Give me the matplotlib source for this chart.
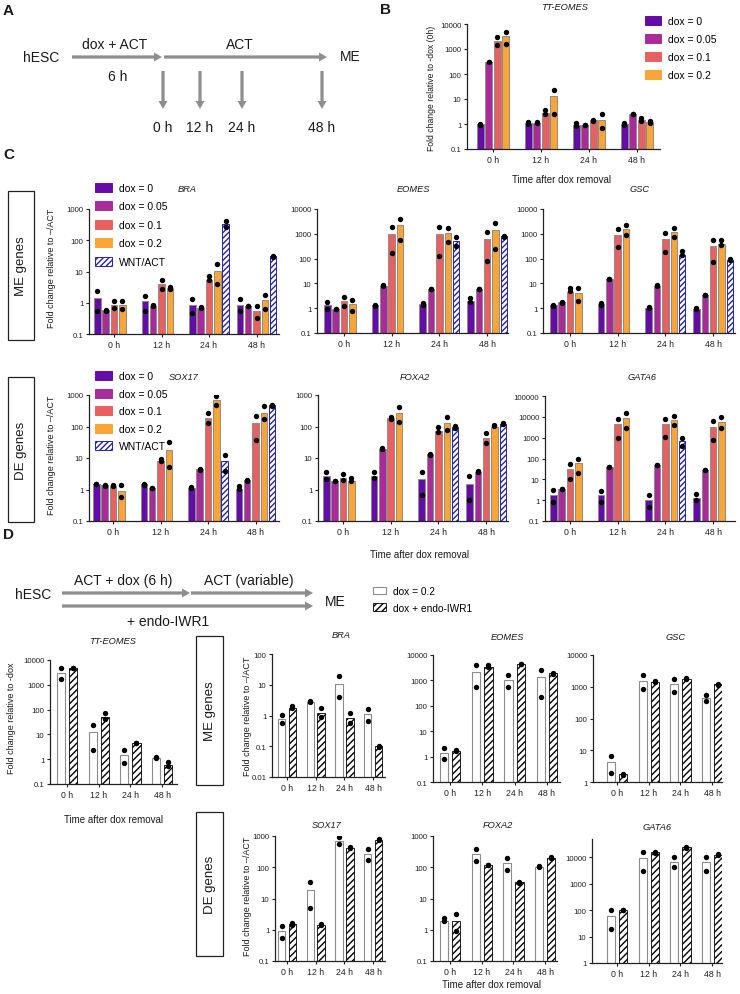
import numpy as np
import matplotlib
matplotlib.use("Agg")
import matplotlib.pyplot as plt
from matplotlib.patches import Rectangle, FancyArrow, Patch
from matplotlib.ticker import FixedLocator, NullLocator


# ============================================================
# Data
# ============================================================

TIMES = ["0 h", "12 h", "24 h", "48 h"]
DOX_LABELS = ["dox = 0", "dox = 0.05", "dox = 0.1", "dox = 0.2"]
WNT_LABEL = "WNT/ACT"
D_LABELS = ["dox = 0.2", "dox + endo-IWR1"]

# Panel B, TT-EOMES: bar heights per dox level, replicates per time point
B_BARS = [
    [1.0, 1.1, 0.95, 1.0],
    [290, 1.1, 0.9, 2.4],
    [2100, 2.8, 1.4, 1.5],
    [3200, 12.8, 1.5, 1.2],
]
B_PTS = [
    [(1.0, 0.95), (1.15, 1.0), (1.05, 0.85), (1.1, 0.9)],
    [(300, 290), (1.15, 1.1), (0.9, 0.88), (2.5, 2.4)],
    [(3000, 1400), (3.5, 2.5), (1.5, 1.3), (1.7, 1.3)],
    [(5000, 1600), (23, 2.4), (2.4, 0.67), (1.35, 1.1)],
]

# Panel C: five series (dox 0 / 0.05 / 0.1 / 0.2 / WNT-ACT), None = not measured
C_BRA_BARS = [
    [1.4, 1.1, 0.87, 0.87],
    [0.58, 0.8, 0.7, 0.8],
    [0.85, 4.0, 5.5, 0.56],
    [0.82, 2.9, 10.6, 1.2],
    [None, None, 330, 31],
]
C_BRA_PTS = [
    [(2.3, 0.56), (1.7, 0.55), (1.35, 0.46), (1.35, 0.55)],
    [(0.58, 0.56), (0.82, 0.78), (0.72, 0.68), (0.8, 0.78)],
    [(1.1, 0.7), (5.3, 2.7), (7.4, 5.3), (0.8, 0.33)],
    [(1.1, 0.62), (3.1, 2.8), (18, 4.0), (1.8, 0.63)],
    [None, None, (400, 260), (32, 30)],
]

C_EOMES_BARS = [
    [1.3, 1.3, 1.5, 1.9],
    [0.95, 8.2, 6.0, 6.0],
    [1.95, 990, 990, 620],
    [1.42, 2250, 1050, 1470],
    [None, None, 500, 800],
]
C_EOMES_PTS = [
    [(1.8, 0.95), (1.4, 1.25), (1.6, 1.4), (2.5, 1.8)],
    [(0.97, 0.93), (8.3, 8.0), (6.1, 5.9), (6.1, 5.9)],
    [(2.9, 1.2), (1830, 170), (1830, 125), (1220, 83)],
    [(2.2, 0.77), (3950, 570), (1680, 460), (2700, 250)],
    [None, None, (730, 310), (820, 740)],
]

C_GSC_BARS = [
    [1.3, 1.5, 1.0, 0.96],
    [1.7, 15, 8.2, 3.5],
    [4.7, 900, 590, 310],
    [4.0, 1550, 1150, 390],
    [None, None, 145, 90],
]
C_GSC_PTS = [
    [(1.38, 1.25), (1.65, 1.4), (1.08, 1.0), (1.05, 0.9)],
    [(1.75, 1.65), (15.5, 14.5), (8.3, 7.9), (3.5, 3.3)],
    [(6.4, 5.1), (1570, 300), (1050, 185), (540, 72)],
    [(6.6, 1.9), (2350, 900), (1730, 720), (540, 370)],
    [None, None, (200, 135), (95, 88)],
]

C_SOX17_BARS = [
    [1.5, 1.45, 1.15, 1.05],
    [1.35, 1.1, 4.4, 1.95],
    [1.3, 8.2, 190, 125],
    [0.9, 17.7, 700, 260],
    [None, None, 8.0, 470],
]
C_SOX17_PTS = [
    [(1.55, 1.45), (1.5, 1.4), (1.2, 1.1), (1.25, 1.05)],
    [(1.38, 1.32), (1.12, 1.08), (4.6, 4.3), (2.0, 1.92)],
    [(1.4, 1.25), (9.2, 8.3), (270, 130), (210, 38)],
    [(1.35, 0.58), (33, 5.2), (930, 490), (440, 170)],
    [None, None, (12.5, 3.9), (490, 455)],
]

C_FOXA2_BARS = [
    [2.7, 2.7, 2.1, 1.5],
    [1.85, 20, 13, 3.7],
    [2.4, 180, 73, 43],
    [1.9, 270, 125, 100],
    [None, None, 100, 118],
]
C_FOXA2_PTS = [
    [(3.6, 2.1), (3.6, 2.4), (3.6, 0.65), (2.7, 0.48)],
    [(1.88, 1.8), (20.5, 19.5), (13.3, 12.8), (3.8, 3.6)],
    [(3.1, 2.0), (195, 170), (98, 68), (62, 31)],
    [(2.4, 1.9), (420, 142), (195, 78), (112, 102)],
    [None, None, (102, 90), (125, 116)],
]

C_GATA6_BARS = [
    [1.85, 1.75, 1.0, 1.3],
    [3.6, 39, 50, 28],
    [31, 4500, 4500, 3300],
    [60, 8500, 6800, 5800],
    [None, None, 700, None],
]
C_GATA6_PTS = [
    [(3.0, 0.84), (2.7, 0.84), (1.7, 0.48), (1.95, 1.05)],
    [(3.6, 3.4), (40, 38), (51, 48), (28, 27)],
    [(53, 10.7), (8300, 1000), (8300, 1120), (6200, 770)],
    [(100, 20), (14500, 2800), (11000, 4200), (10000, 2800)],
    [None, None, (1000, 420), None],
]

# Panel D: open bars (dox = 0.2) and hatched bars (dox + endo-IWR1)
D_TT_BARS = [[3100, 12.7, 1.5, 1.15], [4800, 51, 4.4, 0.6]]
D_TT_PTS = [
    [(4900, 1670), (23.5, 2.4), (2.4, 0.69), (1.2, 1.12)],
    [(4900, 4600), (72, 41), (4.6, 4.3), (0.75, 0.52)],
]
D_BRA_BARS = [[0.78, 2.8, 10.9, 1.12], [1.8, 1.2, 0.82, 0.1]]
D_BRA_PTS = [
    [(1.07, 0.56), (2.9, 2.7), (18.6, 3.9), (1.64, 0.64)],
    [(2.0, 1.7), (1.75, 0.88), (1.2, 0.58), (0.102, 0.098)],
]
D_EOMES_BARS = [[1.4, 2100, 1000, 1400], [1.7, 3300, 4400, 1900]]
D_EOMES_PTS = [
    [(2.15, 0.77), (3900, 560), (1580, 530), (2500, 230)],
    [(1.75, 1.62), (4000, 3500), (4600, 4300), (2000, 1800)],
]
D_GSC_BARS = [[4.2, 1520, 1190, 440], [1.75, 1450, 1760, 1190]]
D_GSC_PTS = [
    [(6.7, 1.9), (2370, 880), (1760, 660), (540, 350)],
    [(1.85, 1.65), (1500, 1420), (1820, 1720), (1210, 1150)],
]
D_SOX17_BARS = [[0.93, 18.8, 690, 257], [1.5, 1.47, 420, 760]]
D_SOX17_PTS = [
    [(1.35, 0.56), (33, 5.0), (930, 540), (370, 165)],
    [(1.6, 1.45), (1.5, 1.44), (430, 410), (780, 740)],
]
D_FOXA2_BARS = [[1.85, 270, 135, 105], [1.85, 120, 33, 200]]
D_FOXA2_PTS = [
    [(2.3, 1.85), (390, 153), (200, 79), (110, 105)],
    [(3.2, 0.9), (122, 118), (33.5, 32.5), (210, 195)],
]
D_GATA6_BARS = [[58, 9200, 7000, 6800], [100, 15500, 24500, 12500]]
D_GATA6_PTS = [
    [(100, 20), (15400, 3100), (10000, 4200), (10600, 3100)],
    [(105, 98), (16000, 15000), (25500, 23500), (13000, 12000)],
]


# ============================================================
# Style
# ============================================================

W, H = 740, 995
DPI = 100

DOX_COLORS = ["#650BA8", "#A92A98", "#E8605F", "#F8A536"]
WNT_COLOR = "#2424A8"
EDGE = "#8C8C8C"
ARROW_GRAY = "#8E8E8E"

BAR_STEP = 0.175
BAR_W = 0.135
D_STEP = 0.38
D_W = 0.26

plt.rcParams["font.family"] = ["Liberation Sans", "DejaVu Sans"]
plt.rcParams["hatch.linewidth"] = 1.0
plt.rcParams["axes.linewidth"] = 0.9


def px_axes(fig, box):
    left, top, right, bottom = box
    return fig.add_axes(
        [left / W, 1 - bottom / H, (right - left) / W, (bottom - top) / H]
    )


def tick_text(v):
    return str(int(v)) if v >= 1 else f"{v:g}"


def style_axes(ax, box, x0, dx, ylim, yticks):
    left, _, right, _ = box
    ax.set_yscale("log")
    ax.set_ylim(*ylim)
    ax.yaxis.set_major_locator(FixedLocator(yticks))
    ax.yaxis.set_minor_locator(NullLocator())
    ax.set_yticklabels([tick_text(t) for t in yticks])
    ax.set_xlim((left - x0) / dx, (right - x0) / dx)
    ax.set_xticks(range(len(TIMES)))
    ax.set_xticklabels(TIMES)
    for side in ("top", "right"):
        ax.spines[side].set_visible(False)
    for side in ("left", "bottom"):
        ax.spines[side].set_color("#222222")
    ax.tick_params(axis="y", labelsize=5.6, length=2.5, width=0.8, pad=1.5,
                   colors="#222222")
    ax.tick_params(axis="x", labelsize=6.3, length=2.5, width=0.8, pad=1.5,
                   colors="#222222")
    ax.patch.set_visible(False)


def draw_series(ax, offsets, width, bars, pts, styles):
    for off, vals, reps, st in zip(offsets, bars, pts, styles):
        for t, v in enumerate(vals):
            if v is None:
                continue
            x = t + off
            ax.bar(x, v, width=width, zorder=2, **st)
            ax.scatter([x] * len(reps[t]), reps[t], s=15, color="black",
                       linewidths=0, zorder=3)


def dox_styles(n):
    styles = [
        dict(color=c, edgecolor=EDGE, linewidth=0.7) for c in DOX_COLORS
    ]
    if n == 5:
        styles.append(dict(facecolor="white", edgecolor=WNT_COLOR,
                           linewidth=0.7, hatch="//////"))
    return styles


D_STYLES = [
    dict(facecolor="white", edgecolor=EDGE, linewidth=0.8),
    dict(facecolor="white", edgecolor="black", linewidth=0.6, hatch="/////"),
]


def main():
    fig = plt.figure(figsize=(W / DPI, H / DPI), dpi=DPI)

    # overlay in pixel coordinates for schematics, labels and boxes
    ov = fig.add_axes([0, 0, 1, 1])
    ov.set_xlim(0, W)
    ov.set_ylim(H, 0)
    ov.set_axis_off()

    def txt(x, y, s, size, **kw):
        kw.setdefault("ha", "center")
        kw.setdefault("va", "center")
        ov.text(x, y, s, fontsize=size, color="#1a1a1a", **kw)

    def harrow(x0, x1, y):
        ov.add_patch(FancyArrow(x0, y, x1 - x0, 0, width=3.2, head_width=9,
                                head_length=8, length_includes_head=True,
                                color=ARROW_GRAY, lw=0))

    def varrow(x, y0, y1):
        ov.add_patch(FancyArrow(x, y0, 0, y1 - y0, width=3.2, head_width=9,
                                head_length=8, length_includes_head=True,
                                color=ARROW_GRAY, lw=0))

    def gene_box(box, label):
        left, top, right, bottom = box
        ov.add_patch(Rectangle((left, top), right - left, bottom - top,
                               fill=False, edgecolor="#222222", lw=0.9))
        txt((left + right) / 2, (top + bottom) / 2, label, 9.5, rotation=90)

    # panel letters
    for letter, (x, y) in {"A": (3, 4), "B": (380, 3), "C": (3, 148),
                           "D": (3, 528)}.items():
        txt(x, y, letter, 11, ha="left", va="top", fontweight="bold")

    # ---------------- Panel A schematic ----------------
    txt(41, 58, "hESC", 10)
    harrow(72, 162, 58)
    harrow(164, 327, 58)
    txt(115, 45, "dox + ACT", 10)
    txt(118, 77, "6 h", 10)
    txt(240, 45, "ACT", 10)
    txt(350, 57, "ME", 10)
    for x, lab in zip([163, 200, 242, 322], TIMES):
        varrow(x, 72, 110)
        txt(x, 128, lab, 10)

    # ---------------- Panel B ----------------
    box = (467, 25, 660, 150)
    ax = px_axes(fig, box)
    style_axes(ax, box, 493, 48, (0.1, 10000), [0.1, 1, 10, 100, 1000, 10000])
    offs = (np.arange(4) - 1.5) * BAR_STEP
    draw_series(ax, offs, 0.14, B_BARS, B_PTS, dox_styles(4))
    txt(565, 7, "TT-EOMES", 6.7, style="italic")
    txt(432, 88, "Fold change relative to -dox (0h)", 6.2, rotation=90)
    txt(562, 180, "Time after dox removal", 7)
    handles = [Patch(**st) for st in dox_styles(4)]
    fig.legend(handles, DOX_LABELS, loc="upper left",
               bbox_to_anchor=(645 / W, 1 - 17 / H), frameon=False,
               fontsize=7.5, handlelength=1.5, handleheight=0.95,
               labelspacing=0.76, handletextpad=0.7, borderpad=0,
               borderaxespad=0)

    # ---------------- Panel C ----------------
    gene_box((8, 192, 34, 341), "ME genes")
    gene_box((8, 378, 34, 523), "DE genes")
    offs5 = (np.arange(5) - 2) * BAR_STEP
    yt4 = [0.1, 1, 10, 100, 1000]
    yt5 = [0.1, 1, 10, 100, 1000, 10000]
    yt6 = [0.1, 1, 10, 100, 1000, 10000, 100000]

    c_panels = [
        ((89, 210, 279, 335), 114, 47.5, (0.1, 1000), yt4,
         C_BRA_BARS, C_BRA_PTS),
        ((317, 210, 508, 334), 344, 47.7, (0.1, 10000), yt5,
         C_EOMES_BARS, C_EOMES_PTS),
        ((543, 210, 735, 334), 570, 47.7, (0.1, 10000), yt5,
         C_GSC_BARS, C_GSC_PTS),
        ((89, 396, 279, 522), 113, 47.5, (0.1, 1000), yt4,
         C_SOX17_BARS, C_SOX17_PTS),
        ((318, 396, 508, 522), 343, 47.7, (0.1, 1000), yt4,
         C_FOXA2_BARS, C_FOXA2_PTS),
        ((545, 397, 735, 522), 570, 47.7, (0.1, 100000), yt6,
         C_GATA6_BARS, C_GATA6_PTS),
    ]
    for box, x0, dx, ylim, yt, bars, pts in c_panels:
        ax = px_axes(fig, box)
        style_axes(ax, box, x0, dx, ylim, yt)
        draw_series(ax, offs5, BAR_W, bars, pts, dox_styles(5))

    for x, y, name in [(187, 189, "BRA"), (413, 189, "EOMES"),
                       (640, 189, "GSC"), (184, 377, "SOX17"),
                       (415, 377, "FOXA2"), (642, 377, "GATA6")]:
        txt(x, y, name, 6.7, style="italic")
    txt(52, 268, "Fold change relative to \u2013/ACT", 6.5, rotation=90)
    txt(52, 455, "Fold change relative to \u2013/ACT", 6.5, rotation=90)
    txt(420, 555, "Time after dox removal", 7)

    handles = [Patch(**st) for st in dox_styles(5)]
    labels = DOX_LABELS + [WNT_LABEL]
    for top, spacing in ((184, 0.8), (372, 0.72)):
        fig.legend(handles, labels, loc="upper left",
                   bbox_to_anchor=(95 / W, 1 - top / H), frameon=False,
                   fontsize=7.5, handlelength=1.6, handleheight=0.95,
                   labelspacing=spacing, handletextpad=0.7, borderpad=0,
                   borderaxespad=0)

    # ---------------- Panel D ----------------
    txt(33, 595, "hESC", 10)
    harrow(62, 190, 594)
    harrow(191, 313, 594)
    harrow(62, 313, 607)
    txt(123, 581, "ACT + dox (6 h)", 10)
    txt(249, 581, "ACT (variable)", 10)
    txt(168, 622, "+ endo-IWR1", 10)
    txt(335, 602, "ME", 10)
    handles = [Patch(**st) for st in D_STYLES]
    fig.legend(handles, D_LABELS, loc="upper left",
               bbox_to_anchor=(373 / W, 1 - 587 / H), frameon=False,
               fontsize=7.3, handlelength=1.3, handleheight=0.8,
               labelspacing=0.68, handletextpad=0.7, borderpad=0,
               borderaxespad=0)

    gene_box((196, 637, 223, 786), "ME genes")
    gene_box((196, 813, 223, 957), "DE genes")
    d_offs = np.array([-0.5, 0.5]) * D_STEP

    d_panels = [
        ((50, 661, 177, 785), 67, 31.7, (0.1, 10000), yt5,
         D_TT_BARS, D_TT_PTS),
        ((272, 655, 385, 778), 287, 28.7, (0.01, 100),
         [0.01, 0.1, 1, 10, 100], D_BRA_BARS, D_BRA_PTS),
        ((433, 656, 560, 783), 450, 32.3, (0.1, 10000), yt5,
         D_EOMES_BARS, D_EOMES_PTS),
        ((593, 656, 722, 783), 617, 31.7, (1, 10000),
         [1, 10, 100, 1000, 10000], D_GSC_BARS, D_GSC_PTS),
        ((275, 837, 385, 962), 287, 28.7, (0.1, 1000), yt4,
         D_SOX17_BARS, D_SOX17_PTS),
        ((433, 837, 557, 962), 450, 31.7, (0.1, 1000), yt4,
         D_FOXA2_BARS, D_FOXA2_PTS),
        ((592, 840, 722, 964), 617, 31.7, (1, 50000),
         [1, 10, 100, 1000, 10000], D_GATA6_BARS, D_GATA6_PTS),
    ]
    for box, x0, dx, ylim, yt, bars, pts in d_panels:
        ax = px_axes(fig, box)
        style_axes(ax, box, x0, dx, ylim, yt)
        draw_series(ax, d_offs, D_W, bars, pts, D_STYLES)

    for x, y, name in [(113, 642, "TT-EOMES"), (341, 635, "BRA"),
                       (507, 637, "EOMES"), (676, 637, "GSC"),
                       (327, 825, "SOX17"), (498, 825, "FOXA2"),
                       (657, 827, "GATA6")]:
        txt(x, y, name, 6.7, style="italic")
    txt(12, 718, "Fold change relative to -dox", 6.5, rotation=90)
    txt(247, 716, "Fold change relative to \u2013/ACT", 6.5, rotation=90)
    txt(247, 896, "Fold change relative to \u2013/ACT", 6.5, rotation=90)
    txt(113, 820, "Time after dox removal", 7)
    txt(491, 985, "Time after dox removal", 7)

    fig.savefig("out.png", dpi=DPI)
    plt.close(fig)


if __name__ == "__main__":
    main()
